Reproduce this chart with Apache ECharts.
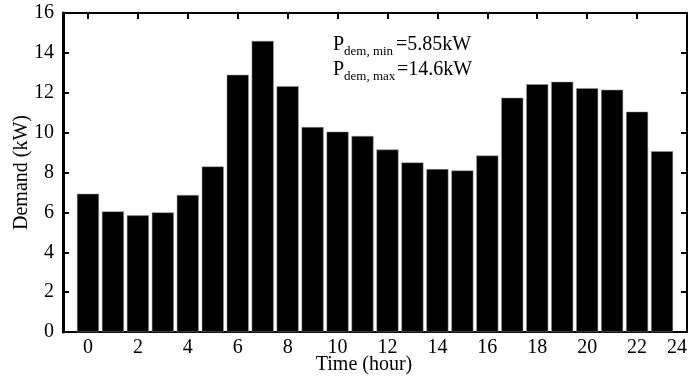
<!DOCTYPE html>
<html>
<head>
<meta charset="utf-8">
<script src="https://cdn.jsdelivr.net/npm/echarts@6/dist/echarts.min.js"></script>
<style>html,body{margin:0;padding:0;background:#fff;}#c{width:692px;height:378px;}</style>
</head>
<body>
<div id="c"></div>
<script>
var hours = [0,1,2,3,4,5,6,7,8,9,10,11,12,13,14,15,16,17,18,19,20,21,22,23];
var demand = [6.93,6.05,5.85,6.0,6.87,8.3,12.9,14.6,12.33,10.28,10.05,9.83,9.15,8.5,8.17,8.1,8.85,11.75,12.43,12.55,12.23,12.15,11.05,9.07];
var xTicks = [0,2,4,6,8,10,12,14,16,18,20,22,24];
var yTicks = [0,2,4,6,8,10,12,14,16];

var FONT = "'Liberation Serif','Times New Roman',serif";
var chart = echarts.init(document.getElementById('c'), null, {renderer:'canvas'});
var lineStyle = {color:'#000', width:2};
var barData = hours.map(function(h,i){return [h, demand[i]];});

chart.setOption({
  animation:false,
  backgroundColor:'#fff',
  grid:{left:63, right:5, top:13, bottom:46, containLabel:false, outerBoundsMode:'none'},
  xAxis:[{
    type:'value', min:-1, max:24, position:'bottom',
    name:'Time (hour)', nameLocation:'middle', nameGap:23, nameMoveOverlap:false,
    nameTextStyle:{fontFamily:FONT, fontSize:20, color:'#000', padding:[0,22,0,0]},
    axisLine:{show:true, onZero:false, lineStyle:lineStyle},
    axisTick:{show:true, inside:true, length:6, lineStyle:lineStyle, customValues:xTicks},
    axisLabel:{fontFamily:FONT, fontSize:20, color:'#000', margin:6, customValues:xTicks, alignMaxLabel:'right'},
    splitLine:{show:false}
  },{
    type:'value', min:-1, max:24, position:'top',
    axisLine:{show:true, onZero:false, lineStyle:lineStyle},
    axisTick:{show:true, inside:true, length:6, lineStyle:lineStyle, customValues:xTicks},
    axisLabel:{show:false, customValues:xTicks},
    splitLine:{show:false}
  }],
  yAxis:[{
    type:'value', min:0, max:16, interval:2, position:'left',
    name:'Demand (kW)', nameLocation:'middle', nameGap:31, nameMoveOverlap:false,
    nameTextStyle:{fontFamily:FONT, fontSize:20, color:'#000'},
    axisLine:{show:true, onZero:false, lineStyle:{color:'#000', width:3}},
    axisTick:{show:true, inside:true, length:6, lineStyle:lineStyle},
    axisLabel:{fontFamily:FONT, fontSize:20, color:'#000', margin:9, customValues:yTicks},
    splitLine:{show:false}
  },{
    type:'value', min:0, max:16, interval:2, position:'right',
    axisLine:{show:true, onZero:false, lineStyle:lineStyle},
    axisTick:{show:true, inside:true, length:6, lineStyle:lineStyle},
    axisLabel:{show:false},
    splitLine:{show:false}
  }],
  series:[{
    type:'bar', xAxisIndex:0, yAxisIndex:0,
    data:barData, barWidth:22,
    itemStyle:{color:'#000', borderColor:'#9a9a9a', borderWidth:0.5}
  }],
  graphic:[
    {type:'text', left:333, top:35, style:{text:'P', font:'20px '+FONT, fill:'#000'}},
    {type:'text', left:344, top:45, style:{text:'dem, min', font:'13px '+FONT, fill:'#000'}},
    {type:'text', left:396, top:35, style:{text:'=5.85kW', font:'20px '+FONT, fill:'#000'}},
    {type:'text', left:333, top:60, style:{text:'P', font:'20px '+FONT, fill:'#000'}},
    {type:'text', left:344, top:70, style:{text:'dem, max', font:'13px '+FONT, fill:'#000'}},
    {type:'text', left:397, top:60, style:{text:'=14.6kW', font:'20px '+FONT, fill:'#000'}}
  ]
});
</script>
</body>
</html>
